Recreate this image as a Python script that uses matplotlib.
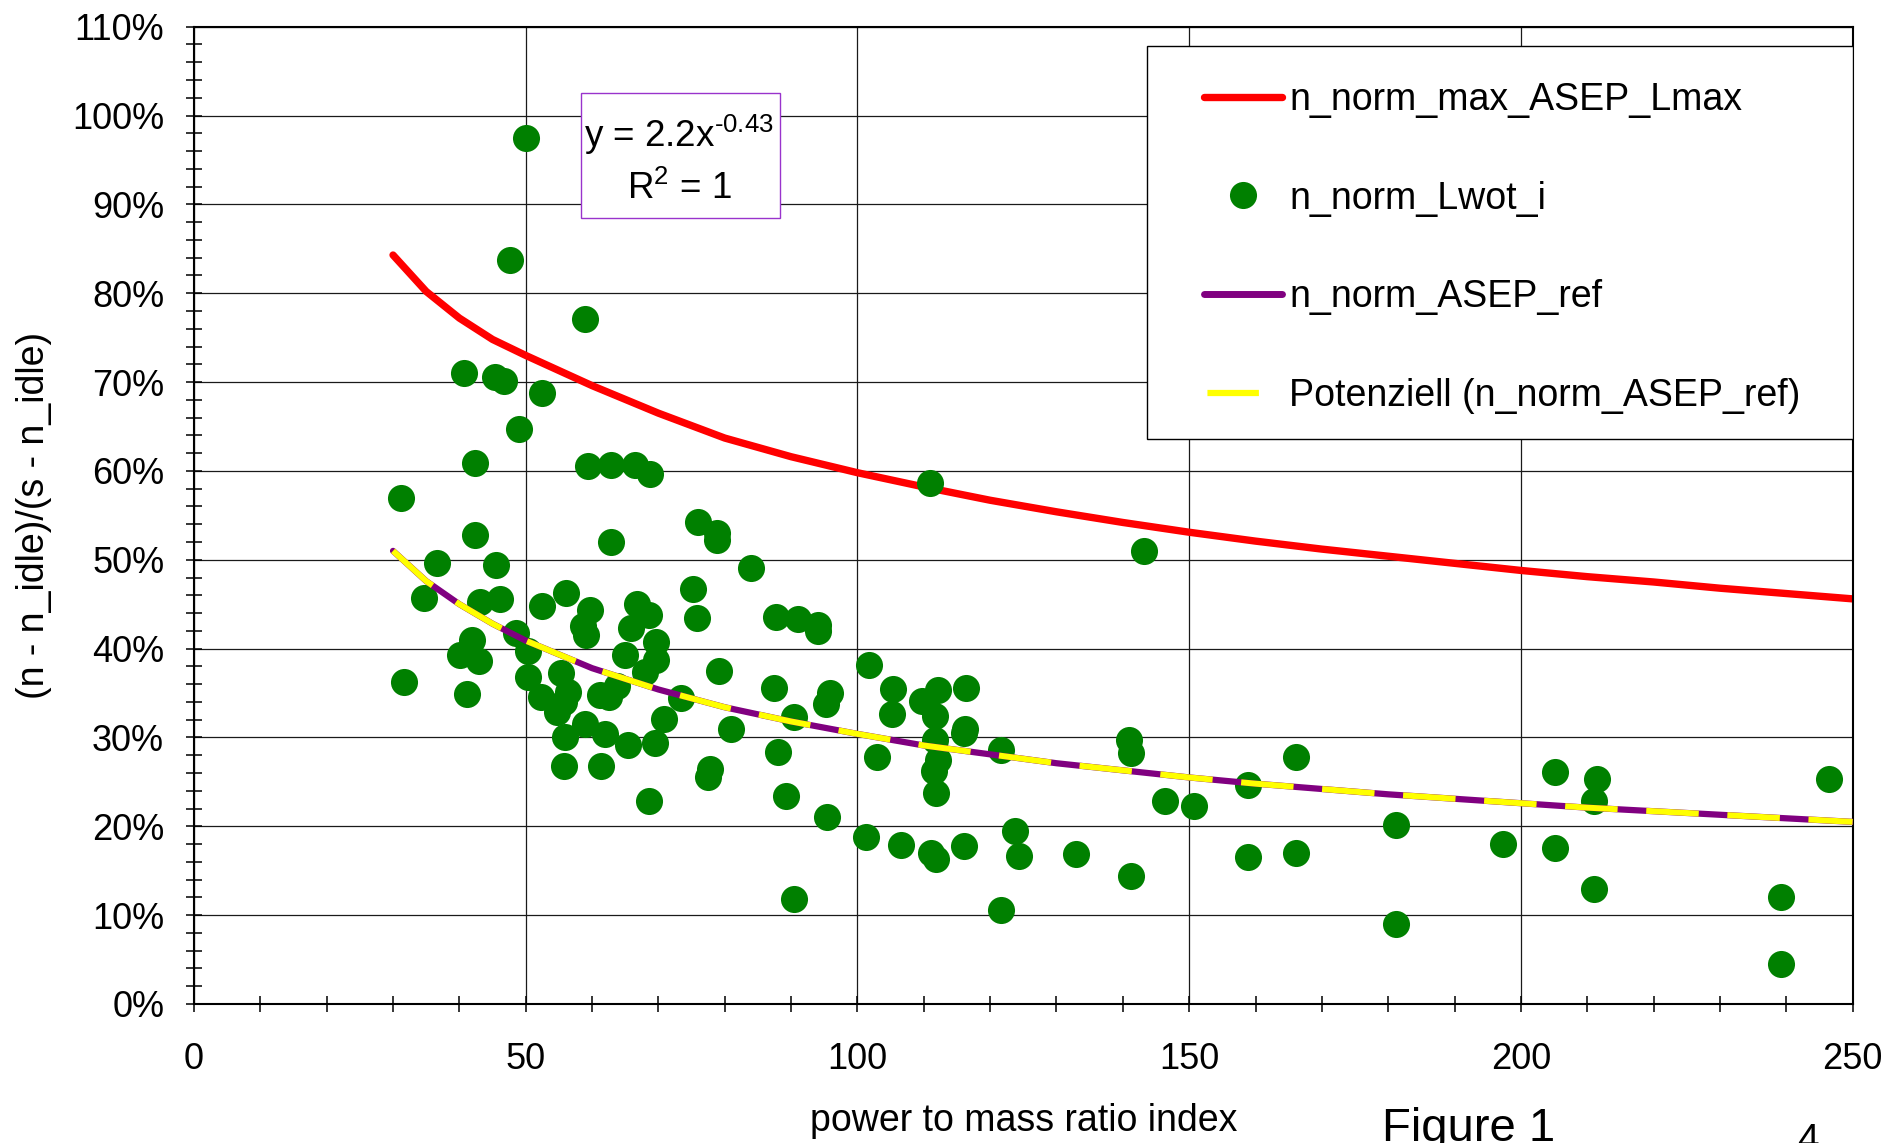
import numpy as np
import matplotlib
matplotlib.use('Agg')
import matplotlib.pyplot as plt
from matplotlib.ticker import MultipleLocator, PercentFormatter
from matplotlib.lines import Line2D
from matplotlib.patches import Rectangle

plt.rcParams['font.family'] = ['Liberation Sans', 'DejaVu Sans']
plt.rcParams['mathtext.fontset'] = 'custom'
plt.rcParams['mathtext.rm'] = 'Liberation Sans'
plt.rcParams['mathtext.it'] = 'Liberation Sans:italic'
plt.rcParams['mathtext.bf'] = 'Liberation Sans:bold'

# curves (x = power to mass ratio index, y in %)
curve_x = np.array([30, 35, 40, 45, 50, 60, 70, 80, 90, 100, 110, 120, 130,
                    140, 150, 160, 170, 180, 190, 200, 210, 220, 230, 240, 250])
lmax_y = np.array([84.3, 80.2, 77.2, 74.8, 73.0, 69.6, 66.5, 63.7, 61.6, 59.8,
                   58.2, 56.7, 55.4, 54.2, 53.1, 52.1, 51.2, 50.4, 49.6, 48.8,
                   48.1, 47.5, 46.8, 46.2, 45.6])
ref_y = np.array([51.0, 47.6, 45.0, 42.8, 40.9, 37.8, 35.4, 33.4, 31.8, 30.4,
                  29.1, 28.1, 27.1, 26.3, 25.5, 24.8, 24.2, 23.6, 23.1, 22.6,
                  22.1, 21.7, 21.3, 20.9, 20.5])

# scatter n_norm_Lwot_i
wot_x = np.array([
    50.0, 47.6, 59.0, 40.7, 45.4, 46.7, 52.5, 49.0, 42.4,
    59.4, 62.8, 66.4, 68.7, 31.2, 42.4, 62.8, 76.0, 36.6, 45.5,
    34.7, 43.1, 46.1, 52.4, 56.1, 59.7, 58.6, 59.1, 66.7, 68.6,
    65.8, 75.2, 75.8, 48.5, 41.9, 40.1, 42.9, 50.4, 64.9, 69.7,
    69.7, 68.0, 31.7, 41.2, 50.3, 55.3, 56.4, 52.3, 54.7, 55.8,
    61.2, 63.7, 62.5, 58.9, 62.0, 55.9, 65.4, 69.5, 70.9, 73.4,
    55.7, 61.3, 68.6,
    111.0, 78.8, 78.8, 83.9, 87.8, 91.0, 94.1, 94.1, 79.1, 87.4,
    95.8, 95.3, 90.5, 81.0, 88.1, 101.8, 105.3, 112.2, 116.4, 109.8,
    105.2, 111.7, 116.2, 116.0, 111.7, 121.6, 103.0,
    77.8, 77.5, 89.2, 95.4, 90.5, 112.1, 111.5, 111.8, 101.3, 106.6,
    111.1, 111.8, 116.0, 123.8, 124.4, 121.6,
    143.2, 141.0, 141.3, 146.3, 150.8, 158.9, 166.1, 133.0, 141.3,
    158.9, 166.1, 181.2, 181.2,
    205.1, 211.4, 211.0, 246.4, 197.3, 205.1, 211.0, 239.2, 239.2])
wot_y = np.array([
    97.5, 83.7, 77.1, 71.0, 70.6, 70.1, 68.8, 64.7, 60.9,
    60.6, 60.7, 60.7, 59.7, 57.0, 52.8, 52.0, 54.3, 49.6, 49.4,
    45.7, 45.3, 45.6, 44.8, 46.3, 44.4, 42.6, 41.5, 45.0, 43.8,
    42.3, 46.7, 43.4, 41.8, 41.0, 39.3, 38.6, 39.7, 39.3, 40.7,
    38.7, 37.4, 36.2, 34.9, 36.8, 37.2, 35.1, 34.6, 32.9, 34.0,
    34.8, 35.8, 34.5, 31.5, 30.4, 30.0, 29.1, 29.4, 32.1, 34.4,
    26.8, 26.8, 22.8,
    58.6, 53.0, 52.2, 49.1, 43.6, 43.3, 42.7, 42.0, 37.5, 35.6,
    35.0, 33.8, 32.3, 30.9, 28.4, 38.1, 35.5, 35.3, 35.6, 34.1,
    32.6, 32.4, 31.0, 30.5, 29.7, 28.6, 27.8,
    26.5, 25.5, 23.4, 21.0, 11.8, 27.5, 26.2, 23.8, 18.8, 17.9,
    17.0, 16.3, 17.8, 19.5, 16.7, 10.6,
    51.0, 29.7, 28.3, 22.8, 22.3, 24.6, 27.8, 16.9, 14.4,
    16.5, 17.0, 20.2, 9.0,
    26.1, 25.3, 22.8, 25.3, 18.0, 17.6, 12.9, 12.0, 4.5])

labels = ['n_norm_max_ASEP_Lmax', 'n_norm_Lwot_i', 'n_norm_ASEP_ref',
          'Potenziell (n_norm_ASEP_ref)']

fig = plt.figure(figsize=(19.01, 11.43), dpi=100)
ax = fig.add_axes([0.10205, 0.12161, 0.87249, 0.85503])

ax.plot(curve_x, lmax_y / 100, color='red', lw=5.3, solid_capstyle='round', zorder=2.5)
ax.scatter(wot_x, wot_y / 100, s=380, color='#008000', linewidths=0, zorder=3)
ax.plot(curve_x, ref_y / 100, color='#800080', lw=4.5, solid_capstyle='round', zorder=4)
ax.plot(curve_x, ref_y / 100, color='yellow', lw=4.3, dashes=(8.8, 4.8),
        dash_capstyle='butt', zorder=5)

ax.set_xlim(0, 250)
ax.set_ylim(0, 1.1)
ax.xaxis.set_major_locator(MultipleLocator(50))
ax.xaxis.set_minor_locator(MultipleLocator(10))
ax.yaxis.set_major_locator(MultipleLocator(0.1))
ax.yaxis.set_minor_locator(MultipleLocator(0.02))
ax.yaxis.set_major_formatter(PercentFormatter(1.0, decimals=0))

ax.grid(True, which='major', color='#1a1a1a', lw=0.9)
ax.set_axisbelow(True)
for sp in ax.spines.values():
    sp.set_linewidth(1.5)
    sp.set_color('black')

ax.tick_params(which='both', direction='inout', length=11, width=1.1,
               labelsize=26, colors='black')
ax.tick_params(axis='x', pad=22)
ax.tick_params(axis='y', pad=16)

ax.set_ylabel('(n - n_idle)/(s - n_idle)', fontsize=27)
ax.yaxis.set_label_coords(-0.0856, 0.5)
ax.set_xlabel('power to mass ratio index', fontsize=27)
ax.xaxis.set_label_coords(0.5, -0.1013)

# equation box
ax.add_patch(Rectangle((0.2331, 0.804), 0.12, 0.1278, transform=ax.transAxes,
                       facecolor='white', edgecolor='#9933cc', lw=1.0, zorder=6))
ax.text(0.2924, 0.889, r'y = 2.2x$^{\text{-}0.43}$', transform=ax.transAxes,
        ha='center', va='center', fontsize=26.5, zorder=7)
ax.text(0.2924, 0.834, 'R$^2$ = 1', transform=ax.transAxes,
        ha='center', va='center', fontsize=26.5, zorder=7)

# legend
ax.add_patch(Rectangle((0.5746, 0.578), 0.4254, 0.402, transform=ax.transAxes,
                       facecolor='white', edgecolor='black', lw=1.0, zorder=6))
hl = 2.08 * 27 / 4.5
handles = [
    Line2D([], [], color='red', lw=5.3, solid_capstyle='round'),
    Line2D([], [], ls='none', marker='o', markersize=19.5, color='#008000',
           markeredgewidth=0),
    Line2D([], [], color='#800080', lw=5.0, solid_capstyle='round'),
    Line2D([], [], color='yellow', lw=4.5,
           linestyle=(0.956 * hl, (0.66 * hl, 0.34 * hl))),
]
leg = ax.legend(handles, labels, loc='upper left', bbox_to_anchor=(0.609, 0.9435),
                frameon=False, fontsize=27, handlelength=2.08, handletextpad=0.19,
                labelspacing=1.67, borderpad=0, borderaxespad=0)
leg.set_zorder(7)

fig.text(0.727, 0.0315, 'Figure 1', fontsize=34, ha='left', va='top')
fig.text(0.9453, 0.0175, '4', fontsize=28, ha='left', va='top')

fig.savefig('out.png', dpi=100)
